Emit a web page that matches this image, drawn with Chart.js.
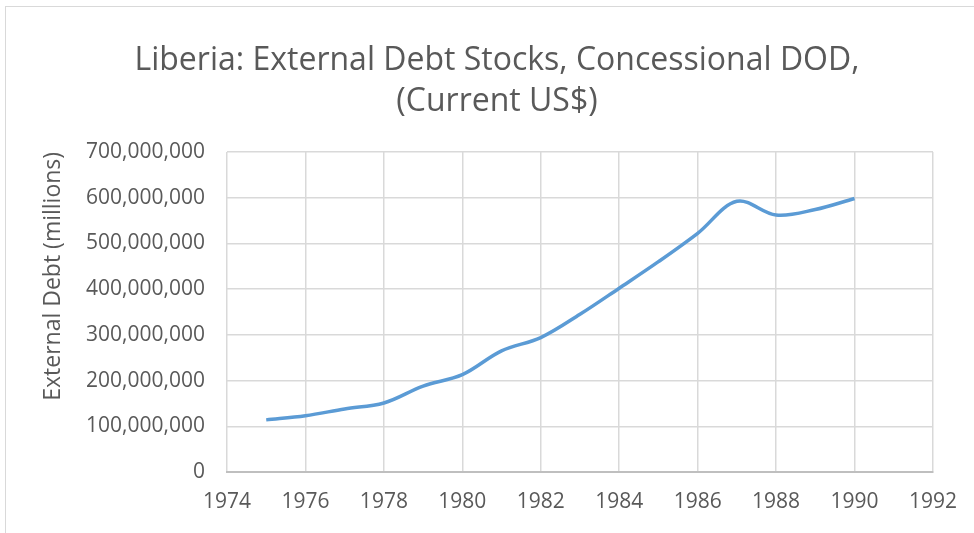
<!DOCTYPE html>
<html>
<head>
<meta charset="utf-8">
<script src="https://cdn.jsdelivr.net/npm/chart.js@4"></script>
<style>
  html, body { margin: 0; padding: 0; background: #fff; }
  #wrap { position: relative; width: 974px; height: 533px; overflow: hidden; }
  #frame { position: absolute; left: 5px; top: 6px; width: 1000px; height: 600px; border: 1px solid #d9d9d9; box-sizing: border-box; }
  canvas { position: absolute; left: 0; top: 0; }
</style>
</head>
<body>
<div id="wrap">
  <div id="frame"></div>
  <canvas id="c" width="974" height="533"></canvas>
</div>
<script>
const years = [1975, 1976, 1977, 1978, 1979, 1980, 1981, 1982, 1983, 1984, 1985, 1986, 1987, 1988, 1989, 1990];
const debt = [114000000, 123000000, 138000000, 151000000, 188000000, 213000000, 265000000, 294000000, 345000000, 402000000, 460000000, 522000000, 592000000, 562000000, 574000000, 598000000];
const titleLines = ["Liberia: External Debt Stocks, Concessional DOD,", "(Current US$)"];
const yAxisTitle = "External Debt (millions)";
const xMin = 1974, xMax = 1992, xStep = 2;
const yMin = 0, yMax = 700000000, yStep = 100000000;

const textColor = '#595959';
const fontFamily = '"Open Sans", "Liberation Sans", sans-serif';

new Chart(document.getElementById('c'), {
  type: 'line',
  data: {
    datasets: [{
      data: years.map((y, i) => ({ x: y, y: debt[i] })),
      borderColor: '#5b9bd5',
      borderWidth: 3.5,
      pointRadius: 0,
      tension: 0.35,
      fill: false
    }]
  },
  options: {
    responsive: false,
    animation: false,
    layout: { padding: { left: 60, right: 40, top: 0, bottom: 0 } },
    plugins: {
      legend: { display: false },
      tooltip: { enabled: false },
      title: {
        display: true,
        text: titleLines,
        color: textColor,
        font: { family: fontFamily, size: 32, weight: 'normal', lineHeight: 1.28 },
        padding: { top: 40, bottom: 30 }
      }
    },
    scales: {
      x: {
        type: 'linear',
        min: xMin, max: xMax,
        afterFit: (s) => { s.height = 61; },
        ticks: {
          stepSize: xStep,
          color: textColor,
          font: { family: fontFamily, size: 21 },
          padding: 17,
          maxRotation: 0,
          callback: (v) => String(v)
        },
        grid: { color: '#d9d9d9', lineWidth: 1.5, drawTicks: false },
        border: { display: true, color: '#bfbfbf', width: 2 }
      },
      y: {
        min: yMin, max: yMax,
        afterFit: (s) => { s.width = 167; },
        ticks: {
          stepSize: yStep,
          color: textColor,
          font: { family: fontFamily, size: 21 },
          padding: 22,
          callback: (v) => v.toLocaleString('en-US')
        },
        grid: { color: '#d9d9d9', lineWidth: 1.5, drawTicks: false },
        border: { display: false },
        title: {
          display: true,
          text: yAxisTitle,
          align: 'end',
          color: textColor,
          font: { family: fontFamily, size: 23, lineHeight: 1.2 },
          padding: { top: -20, bottom: 0 }
        }
      }
    }
  }
});
</script>
</body>
</html>
